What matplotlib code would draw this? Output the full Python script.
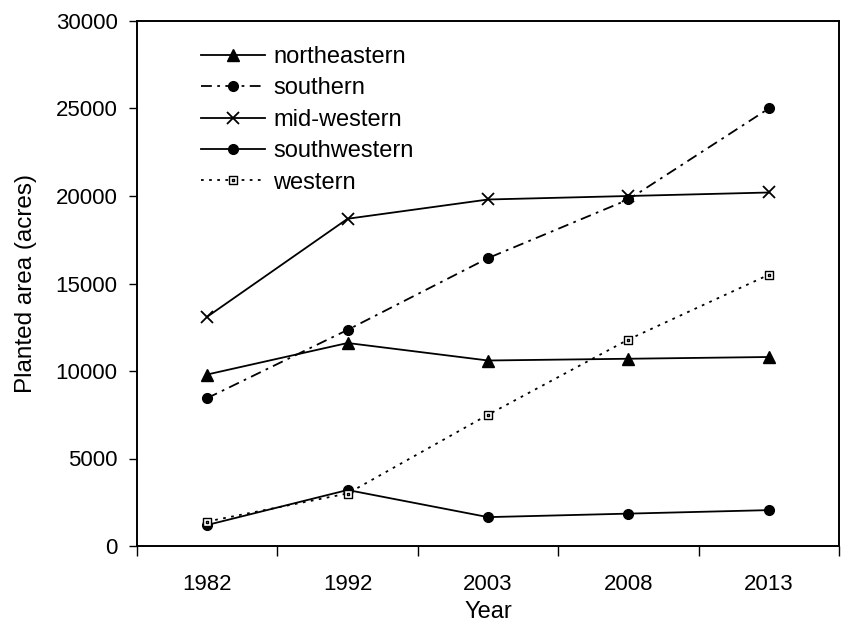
import matplotlib
matplotlib.use("Agg")
import matplotlib.pyplot as plt
from matplotlib.path import Path

plt.rcParams['font.family'] = ['Liberation Sans', 'DejaVu Sans']

years = ['1982', '1992', '2003', '2008', '2013']
northeastern = [9800, 11600, 10600, 10700, 10800]
southern = [8450, 12350, 16450, 19800, 25000]
mid_western = [13100, 18700, 19800, 20000, 20200]
southwestern = [1200, 3200, 1650, 1850, 2050]
western = [1400, 3000, 7500, 11800, 15500]

# square with a small dot in the middle
box_dot = Path(
    [(-1, -1), (1, -1), (1, 1), (-1, 1), (-1, -1),
     (-0.15, -0.15), (0.15, -0.15), (0.15, 0.15), (-0.15, 0.15), (-0.15, -0.15)],
    [Path.MOVETO, Path.LINETO, Path.LINETO, Path.LINETO, Path.CLOSEPOLY,
     Path.MOVETO, Path.LINETO, Path.LINETO, Path.LINETO, Path.CLOSEPOLY])

fig = plt.figure(figsize=(8.42, 6.24), dpi=100)
ax = fig.add_axes([137 / 842, 1 - 546 / 624, 702 / 842, 525 / 624])

x = list(range(len(years)))
ax.plot(x, northeastern, color='black', lw=1.3, marker='^', ms=8, label='northeastern')
ax.plot(x, southern, color='black', lw=1.3, dashes=(6, 3, 1.5, 3), marker='o', ms=7,
        label='southern')
ax.plot(x, mid_western, color='black', lw=1.3, marker='x', ms=9, mew=1.3, label='mid-western')
ax.plot(x, southwestern, color='black', lw=1.3, marker='o', ms=7, label='southwestern')
ax.plot(x, western, color='black', lw=1.3, dashes=(1.5, 3), marker=box_dot, ms=6,
        mfc='white', mec='black', mew=1.0, label='western')

ax.set_xlim(-0.5, len(years) - 0.5)
ax.set_ylim(0, 30000)
ax.set_yticks(range(0, 30001, 5000))
ax.set_xticks([i - 0.5 for i in range(len(years) + 1)], minor=False)
ax.set_xticklabels([])
ax.set_xticks(x, minor=True)
ax.set_xticklabels(years, minor=True)
ax.tick_params(axis='x', which='major', direction='out', length=7, width=1)
ax.tick_params(axis='x', which='minor', length=0, pad=20, labelsize=16)
ax.tick_params(axis='y', direction='out', length=6, width=1, labelsize=16, pad=8)
for s in ax.spines.values():
    s.set_linewidth(1.4)

ax.set_xlabel('Year', fontsize=17, labelpad=4.5)
ax.set_ylabel('Planted area (acres)', fontsize=17.5, labelpad=13)

ax.legend(loc='upper left', bbox_to_anchor=(0.075, 0.975), frameon=False, fontsize=17,
          handlelength=2.7, handletextpad=0.35, labelspacing=0.4, borderpad=0)

fig.savefig('out.png', dpi=100)
